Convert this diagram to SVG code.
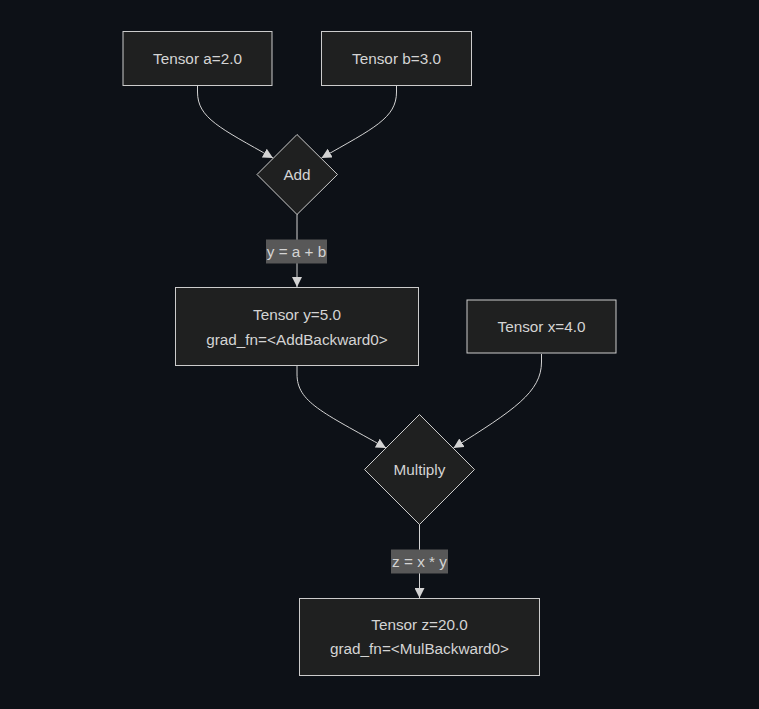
<svg xmlns="http://www.w3.org/2000/svg" width="759" height="709" viewBox="0 0 759 709">
<style>
.bg{fill:#0d1117}
.node{fill:#1f2020;stroke:#cccccc;stroke-width:1}
.t{font-family:"Liberation Sans",Arial,sans-serif;font-size:15.3px;fill:#d4d4d4;text-anchor:middle}
.edge{fill:none;stroke:#d3d3d3;stroke-width:1}
.lbl{fill:#585858}
</style>
<defs>
<marker id="arr" viewBox="0 0 10 10" refX="10" refY="5" markerWidth="10" markerHeight="10" markerUnits="userSpaceOnUse" orient="auto">
<path d="M0,0 L10,5 L0,10 z" fill="#d3d3d3"/>
</marker>
</defs>
<rect class="bg" x="0" y="0" width="759" height="709"/>
<g id="connectors">
<path class="edge" d="M197.5,86 L197.5,92 C197.5,118 220,128 273,158" marker-end="url(#arr)"/>
<path class="edge" d="M396.5,86 L396.5,92 C396.5,118 374,128 321.5,158" marker-end="url(#arr)"/>
<path class="edge" d="M297,214 L297,287" marker-end="url(#arr)"/>
<path class="edge" d="M297,366 L297,374 C297,402 322,412 386,448" marker-end="url(#arr)"/>
<path class="edge" d="M541.5,354 L541.5,362 C541.5,392 514,410 453.5,448" marker-end="url(#arr)"/>
<path class="edge" d="M419.5,524 L419.5,598" marker-end="url(#arr)"/>
</g>
<g id="label-y">
<rect class="lbl" x="266" y="239.5" width="61" height="24"/>
<text class="t" x="296.5" y="257">y = a + b</text>
</g>
<g id="label-z">
<rect class="lbl" x="391" y="549.5" width="57" height="24"/>
<text class="t" x="419.5" y="567">z = x * y</text>
</g>
<g id="node-a">
<rect class="node" x="123" y="31.5" width="149" height="54"/>
<text class="t" x="197.5" y="64">Tensor a=2.0</text>
</g>
<g id="node-b">
<rect class="node" x="321.5" y="31.5" width="150" height="54"/>
<text class="t" x="396.5" y="64">Tensor b=3.0</text>
</g>
<g id="node-add">
<polygon class="node" points="297,134.5 337.5,174.5 297,214.5 257,174.5"/>
<text class="t" x="297" y="180">Add</text>
</g>
<g id="node-y">
<rect class="node" x="175.5" y="287.5" width="243" height="78"/>
<text class="t" x="297" y="320">Tensor y=5.0</text>
<text class="t" x="297" y="344.5">grad_fn=&lt;AddBackward0&gt;</text>
</g>
<g id="node-x">
<rect class="node" x="467" y="300" width="149" height="53"/>
<text class="t" x="541.5" y="332">Tensor x=4.0</text>
</g>
<g id="node-mul">
<polygon class="node" points="419.5,414.5 474.5,469.5 419.5,524.5 364.5,469.5"/>
<text class="t" x="419.5" y="475">Multiply</text>
</g>
<g id="node-z">
<rect class="node" x="299.5" y="598.5" width="240" height="77"/>
<text class="t" x="419.5" y="630">Tensor z=20.0</text>
<text class="t" x="419.5" y="654">grad_fn=&lt;MulBackward0&gt;</text>
</g>
</svg>
